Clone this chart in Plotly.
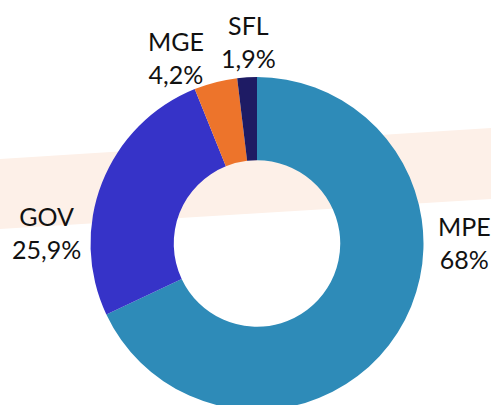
import plotly.graph_objects as go

labels = ["MPE", "GOV", "MGE", "SFL"]
values = [68, 25.9, 4.2, 1.9]
colors = ["#2E8BB8", "#3633C8", "#ED742B", "#1E1B64"]

W, H = 491, 410  # slightly taller than the window so the ring's bottom is clipped

def px_y(y):
    return 1 - y / H

def px_x(x):
    return x / W

fig = go.Figure()
fig.add_trace(go.Pie(
    labels=labels,
    values=values,
    hole=0.5,
    sort=False,
    direction="clockwise",
    rotation=0,
    marker=dict(colors=colors, line=dict(width=0)),
    textinfo="none",
    showlegend=False,
    hoverinfo="label+percent",
    domain=dict(x=[px_x(90.5), px_x(423.5)], y=[0, px_y(77)]),
))

# decorative tilted band behind the donut
fig.add_shape(
    type="path",
    xref="paper", yref="paper",
    path=f"M 0,{px_y(159)} L 1,{px_y(128)} L 1,{px_y(199)} L 0,{px_y(229)} Z",
    fillcolor="#FDF0E8", line=dict(width=0), layer="below",
)

label_pos = {
    "MPE": (464, 242),
    "GOV": (46, 233),
    "MGE": (176, 57),
    "SFL": (249, 42),
}

def fmt(v):
    s = f"{v:g}".replace(".", ",")
    return s + "%"

for lab, val in zip(labels, values):
    x, y = label_pos[lab]
    fig.add_annotation(
        x=px_x(x), y=px_y(y), xref="paper", yref="paper",
        text=f"{lab}<br>{fmt(val)}", showarrow=False,
        xanchor="center", yanchor="middle",
        font=dict(family="Lato", size=25, color="#111111"),
    )

fig.update_layout(
    width=W, height=H,
    margin=dict(l=0, r=0, t=0, b=0),
    paper_bgcolor="white",
    plot_bgcolor="white",
    separators=",.",
)

fig.write_html(
    "out.html",
    config={"displayModeBar": False},
    post_script="document.body.style.margin='0';document.body.style.overflow='hidden';",
)
